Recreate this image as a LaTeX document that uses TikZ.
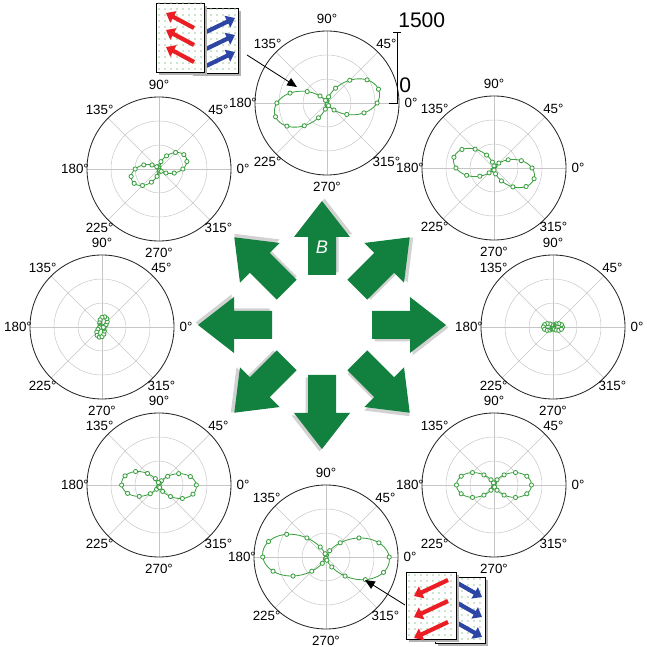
\documentclass[tikz,border=0pt]{standalone}
\usepackage{fontspec}
\setmainfont{Liberation Sans}
\usetikzlibrary{arrows.meta}
\definecolor{fieldgreen}{RGB}{18, 128, 62}
\definecolor{traceGreen}{RGB}{60, 160, 65}
\definecolor{spinred}{RGB}{235, 30, 35}
\definecolor{spinblue}{RGB}{45, 70, 165}
\tikzset{
  gridline/.style={gray!45, line width=0.35pt},
  rimline/.style={black!85, line width=0.6pt},
  anglabel/.style={font=\fontsize{9.5}{9.5}\selectfont, inner sep=0pt},
  trace/.style={traceGreen, line width=0.6pt},
  dotmark/.style={draw=traceGreen, fill=white, line width=0.6pt},
  fieldarrow/.style={fill=fieldgreen, draw=none},
  card/.style={draw=black, line width=0.5pt, fill=white},
  spin/.style={line width=3pt, -{Triangle[length=6pt,width=9pt]}},
  pointer/.style={line width=0.6pt, -{Triangle[length=7pt,width=6pt]}},
}
\begin{document}
\begin{tikzpicture}[x=0.025cm, y=0.025cm]
    \useasboundingbox (0,0) rectangle (647,647);

    % Field arrows around the centre
    \coordinate (mid) at (322,322);
    \foreach \ang in {0,45,...,315}{
        \fill[black!35, opacity=0.5, shift={(2.5,-2.5)}, rotate around={\ang:(mid)}]
            (372,308) -- (410,308) -- (410,294) -- (446,322) -- (410,350) -- (410,336) -- (372,336) -- cycle;
        \fill[fieldarrow, rotate around={\ang:(mid)}]
            (372,308) -- (410,308) -- (410,294) -- (446,322) -- (410,350) -- (410,336) -- (372,336) -- cycle;
    }
    \node[text=white, font=\fontsize{13}{13}\selectfont\itshape] (bfield) at (322,400) {B};

    % Polar plots: name/x/y/size/tilt
    \foreach \name/\cx/\cy/\amp/\tilt in {ptop/327/544/52/12, pul/159/478/28/22, pur/494/479/40/-14,
            pl/102/320/9/75, pr/553/320/8/0, pll/159/162/36/-3, plr/494/162/36/0, pbot/326/90/62/-3}{
        \begin{scope}[shift={(\cx,\cy)}]
            \node[circle, minimum size=1.8cm, inner sep=0pt] (\name) at (0,0) {};
            \foreach \r in {24,48} \draw[gridline] (0,0) circle (\r);
            \foreach \a in {0,45,...,135} \draw[gridline] (\a:72) -- (\a+180:72);
            \draw[rimline] (0,0) circle (72);
            \foreach \a in {0,45,...,315}
                \node[anglabel] at (\a:84) {\a°};
            \draw[trace] plot[variable=\t, domain=0:355, samples=72, smooth cycle]
                (\t:{\amp*abs(cos(\t-\tilt))^3+1.5});
            \foreach \t in {0,15,...,345}
                \draw[dotmark] (\t:{\amp*abs(cos(\t-\tilt))^3+1.5}) circle (2.1);
        \end{scope}
    }

    % Scale bar
    \draw[line width=0.6pt] (393,615) -- (401,615);
    \draw[line width=0.6pt] (397,615) -- (397,544) -- (389,544);
    \node[anchor=west, font=\fontsize{15}{15}\selectfont, inner sep=0pt] (scalemax) at (398,627) {1500};
    \node[anchor=west, font=\fontsize{15}{15}\selectfont, inner sep=0pt] (scalemin) at (399,562) {0};

    % Top inset: spin cards
    \fill[black!30] (193,571) rectangle (241,636);
    \draw[card] (190,574) rectangle (238,639);
    \foreach \i in {0,...,7} \foreach \j in {0,...,10}
        \fill[green!50!black!40] (193+\i*6,578+\j*6) circle (0.8);
    \foreach \dy in {0,17,34}
        \draw[spin, spinblue] (206,615-\dy) -- (235,629-\dy);
    \fill[black!30] (159,572) rectangle (207,641);
    \draw[card] (156,575) rectangle (204,644) node[pos=0.5] (cardtop) {};
    \foreach \i in {0,...,7} \foreach \j in {0,...,11}
        \fill[green!50!black!40] (159+\i*6,578+\j*6) circle (0.8);
    \foreach \dy in {0,17,34}
        \draw[spin, spinred] (194,619-\dy) -- (166,634-\dy);
    \coordinate (toptarget) at (297,560);
    \draw[pointer] (247,592) -- (toptarget);

    % Bottom inset: spin cards
    \fill[black!30] (438,1) rectangle (488,67);
    \draw[card] (435,4) rectangle (485,70);
    \foreach \i in {0,...,7} \foreach \j in {0,...,10}
        \fill[green!50!black!40] (438+\i*6,8+\j*6) circle (0.8);
    \foreach \dy in {0,20,40}
        \draw[spin, spinblue] (452,67-\dy) -- (482,50-\dy);
    \fill[black!30] (409,5) rectangle (459,72);
    \draw[card] (406,8) rectangle (456,75) node[pos=0.5] (cardbot) {};
    \foreach \i in {0,...,7} \foreach \j in {0,...,10}
        \fill[green!50!black!40] (409+\i*6,12+\j*6) circle (0.8);
    \foreach \dy in {0,21,42}
        \draw[spin, spinred] (448,67-\dy) -- (414,51-\dy);
    \coordinate (bottarget) at (365,67);
    \draw[pointer] (405,42) -- (bottarget);

\end{tikzpicture}
\end{document}
